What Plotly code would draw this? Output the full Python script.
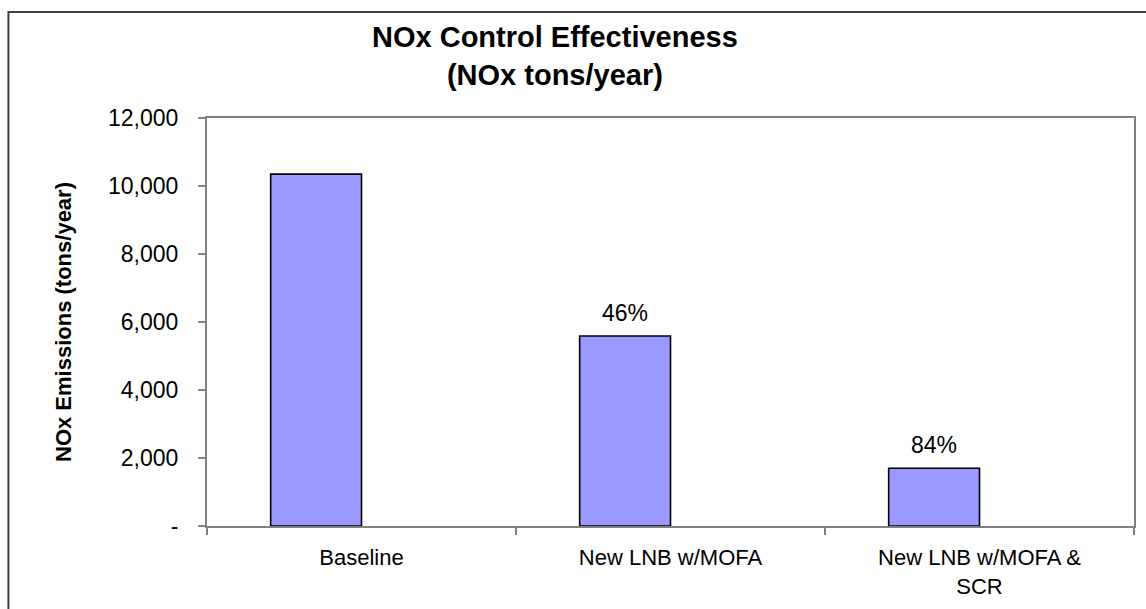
import plotly.graph_objects as go

# NOx emissions by control scenario (tons/year)
categories = ["Baseline", "New LNB w/MOFA", "New LNB w/MOFA &<br>SCR"]
emissions = [10350, 5590, 1700]
reduction_labels = ["", "46%", "84%"]

y_ticks = [0, 2000, 4000, 6000, 8000, 10000, 12000]
y_tick_text = ["-", "2,000", "4,000", "6,000", "8,000", "10,000", "12,000"]

FONT = "Liberation Sans, Arial, sans-serif"
AXIS_GREY = "#808080"
bar_width = 0.294
bar_offset = -0.294

fig = go.Figure()
fig.add_trace(go.Bar(
    x=categories,
    y=emissions,
    width=bar_width,
    offset=bar_offset,
    marker=dict(color="#9999FF", line=dict(color="#000000", width=1.6)),
    showlegend=False,
    hoverinfo="skip",
))

# reduction percentages above the control scenarios
for i, (val, lab) in enumerate(zip(emissions, reduction_labels)):
    if not lab:
        continue
    fig.add_annotation(
        x=i + bar_offset + bar_width / 2, y=val, text=lab,
        showarrow=False, yanchor="bottom", yshift=8,
        font=dict(family=FONT, size=23, color="#000000"),
    )

# chart title
fig.add_annotation(
    xref="paper", yref="paper",
    x=(556 - 207) / 929, y=(526 - 56) / 408,
    xanchor="center", yanchor="middle",
    text="<b>NOx Control Effectiveness<br>(NOx tons/year)</b>",
    showarrow=False,
    font=dict(family=FONT, size=29, color="#000000"),
)

# outer chart frame
fig.add_shape(
    type="rect", xref="paper", yref="paper",
    x0=(8 - 207) / 929, x1=(1150 - 207) / 929,
    y0=(526 - 615) / 408, y1=(526 - 12) / 408,
    line=dict(color="#404040", width=2), fillcolor="rgba(0,0,0,0)",
    layer="below",
)

fig.update_layout(
    width=1146, height=609,
    margin=dict(l=207, r=10, t=118, b=83),
    paper_bgcolor="white", plot_bgcolor="white",
    bargap=0.41,
    font=dict(family=FONT, color="#000000"),
)

fig.update_xaxes(
    type="category",
    range=[-0.5, 2.5],
    showline=True, linecolor=AXIS_GREY, linewidth=2, mirror=True,
    ticks="outside", tickson="boundaries", ticklen=7, tickcolor=AXIS_GREY, tickwidth=1.5,
    tickfont=dict(family=FONT, size=22, color="#000000"),
    ticklabelstandoff=11,
    showgrid=False,
)
fig.update_yaxes(
    range=[0, 12000],
    tickvals=y_ticks, ticktext=y_tick_text,
    showline=True, linecolor=AXIS_GREY, linewidth=2, mirror=True,
    ticks="outside", ticklen=7, tickcolor=AXIS_GREY, tickwidth=1.5,
    tickfont=dict(family=FONT, size=23, color="#000000"),
    ticklabelstandoff=15,
    showgrid=False, zeroline=False,
    title=dict(text="<b>NOx Emissions (tons/year)</b>",
               font=dict(family=FONT, size=22, color="#000000"), standoff=30),
)

fig.write_html("out.html")
